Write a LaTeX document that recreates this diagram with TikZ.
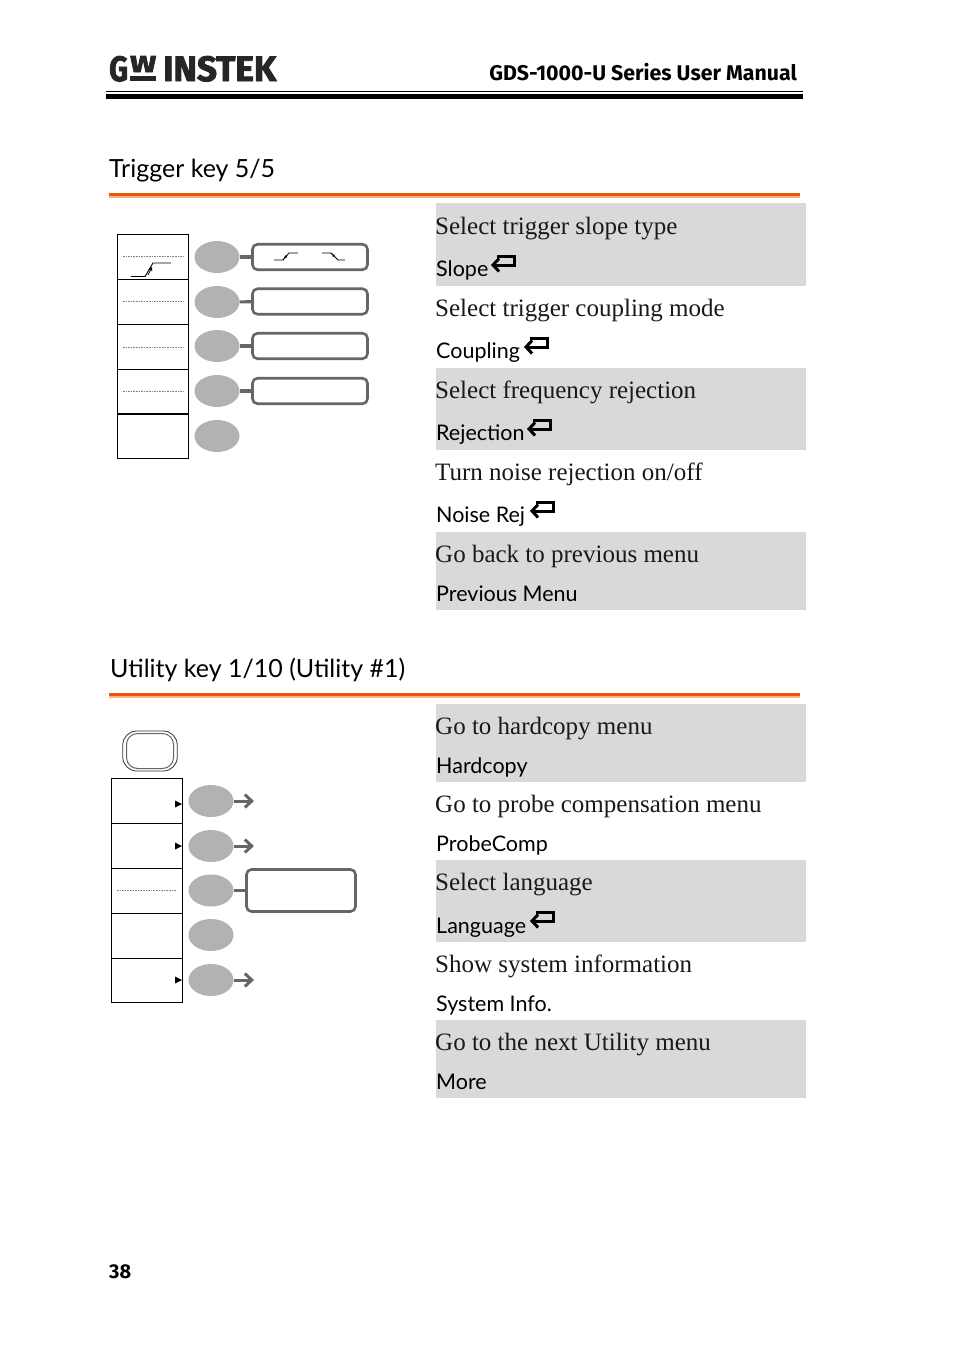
\documentclass[tikz,border=0pt]{standalone}
\usepackage{fontspec}
\usepackage{graphicx}
\setmainfont{Liberation Serif}
\newfontfamily\lbl{Lato}
\newfontfamily\hdr{Fira Sans}
\newfontfamily\logofont[UprightFeatures={FakeBold=2.5},UprightFont=* Bold]{Fira Sans}
\usetikzlibrary{shapes.geometric,arrows.meta}
\definecolor{band}{HTML}{D9D9D9}
\definecolor{keygray}{HTML}{B2B2B2}
\definecolor{wire}{HTML}{666666}
\definecolor{rule}{HTML}{E8590C}
\definecolor{rulelow}{HTML}{F6B48A}
\tikzset{
  x=1pt,y=-1pt,
  softcell/.style={draw=black,line width=1.1pt,minimum width=71pt,minimum height=44.6pt,inner sep=0,anchor=north west},
  softkey/.style={ellipse,fill=keygray,minimum width=45pt,minimum height=32pt,inner sep=0},
  optbox/.style={draw=wire,line width=2.6pt,rounded corners=5pt,fill=white,minimum width=115pt,minimum height=25.5pt,inner sep=0},
  wireline/.style={draw=wire,line width=3.2pt},
  wirearrow/.style={draw=wire,line width=3pt,-{Straight Barb[length=7pt,width=13pt,line width=3pt]}},
  dots/.style={draw=gray,line width=.7pt,dash pattern=on 1.6pt off 1pt},
  desc/.style={font=\fontsize{25}{28}\selectfont,anchor=base west,inner sep=0,text=black!90},
  keyname/.style={font=\lbl\fontsize{21.5}{26}\selectfont,anchor=base west,inner sep=0,text=black},
  head/.style={font=\lbl\fontsize{25}{30}\selectfont,anchor=base west,inner sep=0,text=black},
  logopart/.style={anchor=base west,inner sep=0,font=\logofont\fontsize{30}{30}\selectfont,text=black!85},
  ret/.pic={\draw[line width=3pt,{Straight Barb[length=6pt,width=13pt,line width=3pt]}-] (0,11) -- (23,11) -- (23,2.5) -- (6,2.5);}
}
\begin{document}
\begin{tikzpicture}
\useasboundingbox (0,0) rectangle (954,1349);
\fill[white] (0,0) rectangle (954,1349);
% header
\node[logopart] (logog) at (109,81) {\resizebox{19pt}{25pt}{G}};
\node[logopart] (logow) at (130,72) {\resizebox{26pt}{16pt}{W}};
\fill[black!85] (130,76) rectangle (156,81);
\node[logopart] (logoi) at (163,81) {\resizebox{113pt}{25pt}{INSTEK}};
\node[anchor=base east,inner sep=0,font=\hdr\fontsize{21.3}{24}\selectfont\bfseries] (title) at (797,80) {GDS-1000-U Series User Manual};
\fill[black] (106,91) rectangle (803,92.2);
\fill[black] (106,93.7) rectangle (803,98.5);
% section 1
\node[head] (h1) at (109,177) {Trigger key 5/5};
\fill[rule] (109,193) rectangle (800,196);
\fill[rulelow] (109,196) rectangle (800,197.5);
\foreach \a/\b in {203/286,368/450,532/610} \fill[band] (436,\a) rectangle (806,\b);
\node[desc] (t1) at (435,234.5) {Select trigger slope type};
\node[keyname] (k1) at (436,276.5) {Slope};
\pic at (491,254) {ret};
\node[desc] (t2) at (435,316.5) {Select trigger coupling mode};
\node[keyname] (k2) at (436,358.5) {Coupling};
\pic at (524,336) {ret};
\node[desc] (t3) at (435,398.5) {Select frequency rejection};
\node[keyname] (k3) at (436,440.5) {Rejection};
\pic at (527,418) {ret};
\node[desc] (t4) at (435,480.5) {Turn noise rejection on/off};
\node[keyname] (k4) at (436,522.5) {Noise Rej};
\pic at (530,500) {ret};
\node[desc] (t5) at (435,562.5) {Go back to previous menu};
\node[keyname] (k5) at (436,601.5) {Previous Menu};
% panel 1
\node[softcell] (a1) at (117,234) {};
\node[softcell] (a2) at (117,279) {};
\node[softcell] (a3) at (117,324) {};
\node[softcell] (a4) at (117,368.5) {};
\node[softcell] (a5) at (117,413.5) {};
\foreach \n/\y in {1/257,2/302,3/346,4/391,5/436} \node[softkey] (ka\n) at (217,\y) {};
\node[optbox] (ba1) at (310,257) {};
\node[optbox] (ba2) at (310,301.5) {};
\node[optbox] (ba3) at (310,346) {};
\node[optbox] (ba4) at (310,391) {};
\foreach \n in {1,2,3,4} \draw[wireline] (ka\n) -- (ba\n);
\foreach \y in {256.5,301.5,347.5,391} \draw[dots] (123,\y) -- (183,\y);
\draw[line width=.9pt] (131,276.5) -- (145,276.5) -- (153,263) -- (171,263);
\draw[line width=.8pt,-{Stealth[length=4pt,width=4pt]}] (148,275) -- (152,267);
\draw[line width=.8pt] (274,260) -- (283,260) -- (289,253) -- (298,253);
\draw[line width=.8pt,-{Stealth[length=3pt,width=3pt]}] (283,260) -- (287,255);
\draw[line width=.8pt] (322,253) -- (331,253) -- (338,260) -- (345,260);
\draw[line width=.8pt,-{Stealth[length=3pt,width=3pt]}] (331,253) -- (335,257);
% section 2
\node[head] (h2) at (110,677) {Utility key 1/10 (Utility \#1)};
\fill[rule] (109,693) rectangle (800,696);
\fill[rulelow] (109,696) rectangle (800,697.5);
\foreach \a/\b in {704/782,860/942,1020/1098} \fill[band] (436,\a) rectangle (806,\b);
\node[desc] (u1) at (435,734.5) {Go to hardcopy menu};
\node[keyname] (m1) at (436,773.5) {Hardcopy};
\node[desc] (u2) at (435,812.5) {Go to probe compensation menu};
\node[keyname] (m2) at (436,851.5) {ProbeComp};
\node[desc] (u3) at (435,890.5) {Select language};
\node[keyname] (m3) at (436,933.5) {Language};
\pic at (530,910) {ret};
\node[desc] (u4) at (435,972.5) {Show system information};
\node[keyname] (m4) at (436,1011.5) {System Info.};
\node[desc] (u5) at (435,1050.5) {Go to the next Utility menu};
\node[keyname] (m5) at (436,1089.5) {More};
% panel 2
\node[draw=black!80,line width=.8pt,rounded corners=14pt,minimum width=54.5pt,minimum height=40pt,inner sep=0] (btnout) at (150,751) {};
\node[draw=black!60,line width=1pt,rounded corners=11pt,minimum width=47pt,minimum height=35pt,inner sep=0] (btnin) at (150,751) {};
\node[softcell] (c1) at (111,778) {};
\node[softcell] (c2) at (111,823) {};
\node[softcell] (c3) at (111,868) {};
\node[softcell] (c4) at (111,913) {};
\node[softcell] (c5) at (111,957.7) {};
\foreach \n/\y in {1/801,2/846,3/890.5,4/935,5/980} \node[softkey] (kc\n) at (211,\y) {};
\node[optbox,minimum width=109pt,minimum height=42pt] (bc3) at (301,890.5) {};
\draw[wireline] (kc3) -- (bc3);
\coordinate (e1) at (254,801);
\coordinate (e2) at (254,846);
\coordinate (e5) at (254,980);
\foreach \n in {1,2,5} \draw[wirearrow] (kc\n) -- (e\n);
\draw[dots] (117,890.5) -- (176,890.5);
\foreach \y in {804,846,980} \fill[black] (175,\y-3.5) -- (182,\y) -- (175,\y+3.5) -- cycle;
% page number
\node[anchor=base west,inner sep=0,font=\hdr\bfseries\fontsize{20}{20}\selectfont] (pg) at (109,1278) {38};
\end{tikzpicture}
\end{document}
